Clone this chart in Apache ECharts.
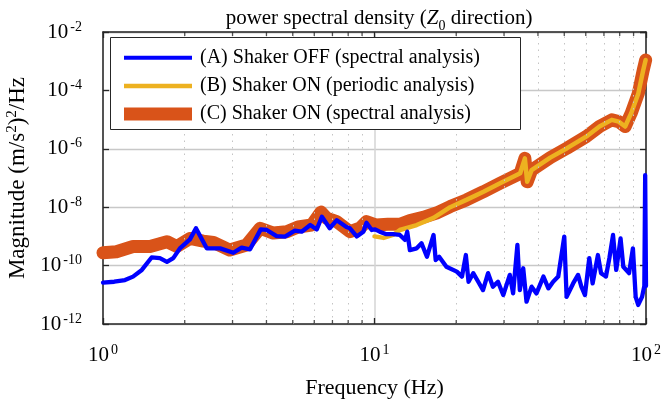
<!DOCTYPE html>
<html>
<head>
<meta charset="utf-8">
<script src="https://cdn.jsdelivr.net/npm/echarts@6/dist/echarts.min.js"></script>
<style>html,body{margin:0;padding:0;background:#fff;}#c{width:662px;height:406px;}</style>
</head>
<body>
<div id="c"></div>
<script>
// ---- data (frequency in Hz, PSD in (m/s^2)^2/Hz) ----
const freqA = [1.00,1.10,1.205,1.29,1.39,1.51,1.62,1.72,1.815,1.92,2.09,2.20,2.41,2.70,3.02,3.24,3.48,3.81,4.01,4.36,4.68,5.09,5.39,5.80,6.13,6.40,6.84,7.26,7.88,8.12,8.60,9.10,9.34,9.77,10.05,10.45,11.0,11.7,12.4,12.96,13.2,13.5,14.3,14.9,15.6,16.5,16.8,17.3,18.4,20.1,21.0,21.7,22.2,23.1,24.1,25.1,26.2,27.3,28.5,29.8,31.5,32.4,33.6,34.3,35.3,36.3,37.9,39.5,41.9,43.7,45.5,47.5,50.0,51.0,53.9,56.2,57.8,59.6,61.8,63.6,66.5,68.3,71.2,73.3,75.6,77.7,80.6,82.5,86.6,89.5,91.6,93.6,96.7,98.6,99.3,100];
const psdA = [2.6e-11,2.8e-11,3.2e-11,4.2e-11,7.1e-11,1.9e-10,1.8e-10,1.35e-10,1.8e-10,3.9e-10,7.9e-10,1.9e-9,3.9e-10,3.9e-10,2.75e-10,4.1e-10,3.6e-10,1.74e-9,1.66e-9,1.02e-9,9.8e-10,1.58e-9,1.45e-9,2.45e-9,1.74e-9,4.7e-9,1.9e-9,3.6e-9,2.1e-9,1.9e-9,1.0e-9,1.45e-9,2.95e-9,1.66e-9,1.74e-9,1.45e-9,1.2e-9,1.2e-9,1.12e-9,7.6e-10,1.45e-9,3.4e-10,3.9e-10,5.8e-10,2.0e-10,1.12e-9,1.55e-10,2.0e-10,9.1e-11,6.2e-11,4.2e-11,2.3e-10,2.8e-11,5.5e-11,2.8e-11,1.45e-11,5.5e-11,1.9e-11,2.8e-11,9.8e-12,4.8e-11,1.12e-11,5.1e-10,1.45e-11,8.1e-11,5.8e-12,1.9e-11,1.12e-11,4.2e-11,1.66e-11,2.8e-11,4.2e-11,9.8e-10,8.5e-12,2.45e-11,4.8e-11,1.9e-11,9.8e-12,1.8e-10,2.45e-11,2.3e-10,5.5e-11,4.2e-11,1.8e-10,1.12e-9,7.1e-11,8.5e-10,9.1e-11,5.5e-11,3.9e-10,8.5e-12,4.5e-12,8.5e-12,2.0e-11,1.26e-7,2.0e-11];

const freqB = [10.0,10.8,11.7,12.4,14.3,16.5,19.0,21.8,25.2,29.0,33.4,34.4,35.8,36.5,37.9,44.4,51.2,60.2,67.4,74.8,79.3,83.8,88.2,93.7,97.7,99.7];
const psdB = [1.0e-9,8.9e-10,1.12e-9,1.66e-9,2.45e-9,4.3e-9,1.0e-8,1.78e-8,3.4e-8,6.6e-8,1.26e-7,1.45e-7,4.7e-7,7.4e-8,1.86e-7,5.0e-7,1.05e-6,2.6e-6,5.8e-6,9.8e-6,8.5e-6,5.8e-6,1.66e-5,7.9e-5,5.0e-4,1.1e-3];

const freqC = [1.00,1.12,1.29,1.49,1.72,1.87,2.09,2.34,2.55,2.93,3.38,3.79,4.24,4.75,5.23,5.87,6.35,6.67,7.26,8.12,8.83,9.34,10.16,11.2,12.4,13.5,15.1,16.9,19.0,21.8,25.2,29.0,33.4,34.4,35.8,36.5,37.9,44.4,51.2,60.2,67.4,74.8,79.3,83.8,88.2,93.7,97.7,99.7];
const psdC = [2.75e-10,3.0e-10,4.5e-10,4.5e-10,6.6e-10,4.5e-10,8.5e-10,6.9e-10,6.2e-10,3.4e-10,5.1e-10,1.9e-9,1.3e-9,1.45e-9,2.1e-9,2.45e-9,6.8e-9,4.2e-9,3.2e-9,1.45e-9,1.9e-9,3.2e-9,2.45e-9,2.6e-9,2.6e-9,3.5e-9,4.5e-9,6.3e-9,1.05e-8,1.78e-8,3.4e-8,6.6e-8,1.26e-7,1.45e-7,4.7e-7,7.4e-8,1.86e-7,5.0e-7,1.05e-6,2.6e-6,5.8e-6,9.8e-6,8.5e-6,5.8e-6,1.66e-5,7.9e-5,5.0e-4,1.1e-3];

const seriesNames = ['(A) Shaker OFF (spectral analysis)','(B) Shaker ON (periodic analysis)','(C) Shaker ON (spectral analysis)'];
const minorTickFreqs = [2,3,4,5,6,7,8,9,20,30,40,50,60,70,80,90];
const yMin = 1e-12, yMax = 1e-2;

const FONT = 'Liberation Serif';
const AXC = '#262626';
const COLORS = ['#0000ff', '#EDB120', '#D95319'];
const toPairs = (xs, ys) => xs.map((x, i) => [x, ys[i]]);

function supLabel(v) {
  const e = Math.round(Math.log10(v));
  return '{b|10}{s|' + e + '}';
}
const labelRich = {
  b: { fontFamily: FONT, fontSize: 21, color: '#000', lineHeight: 24 },
  s: { fontFamily: FONT, fontSize: 14, color: '#000', lineHeight: 14, verticalAlign: 'top', padding: [0,0,0,2] }
};

const chart = echarts.init(document.getElementById('c'), null, { renderer: 'canvas' });

const xCommon = { type: 'log', logBase: 10, min: 1, max: 100, gridIndex: 0 };
const yCommon = { type: 'log', logBase: 10, min: yMin, max: yMax, interval: 2, gridIndex: 0 };

function legendFor(i, h, centerY) {
  return {
    orient: 'vertical', left: 124, top: centerY - 10, z: 60, padding: 0,
    itemWidth: 68, itemHeight: h,
    data: [{ name: seriesNames[i], icon: 'rect', itemStyle: { color: COLORS[i], borderWidth: 0 } }],
    textStyle: { fontFamily: FONT, fontSize: 20, color: '#000', lineHeight: 20, padding: [4,0,0,3] },
    selectedMode: false
  };
}

const option = {
  animation: false,
  backgroundColor: '#fff',
  title: {
    text: '{n|power spectral density (}{i|Z}{sub|0}{n| direction)}',
    left: 374, textAlign: 'center',
    top: 3,
    textStyle: {
      fontWeight: 'normal',
      rich: {
        n: { fontFamily: FONT, fontSize: 21, fontWeight: 'normal', color: '#000' },
        i: { fontFamily: FONT, fontSize: 21, fontWeight: 'normal', fontStyle: 'italic', color: '#000' },
        sub: { fontFamily: FONT, fontSize: 14, fontWeight: 'normal', color: '#000', verticalAlign: 'bottom', lineHeight: 14, padding: [0,0,-4,0] }
      }
    }
  },
  grid: { left: 103, right: 16, top: 32, bottom: 82, containLabel: false, outerBoundsMode: 'none' },
  graphic: [{
    type: 'rect', z: 50, silent: true,
    shape: { x: 110.5, y: 37.5, width: 410, height: 92 },
    style: { fill: '#fff', stroke: AXC, lineWidth: 1 }
  }],
  legend: [ legendFor(0, 4, 55.7), legendFor(1, 4.5, 84), legendFor(2, 13, 112) ],
  xAxis: [
    Object.assign({}, xCommon, {
      position: 'bottom',
      name: 'Frequency (Hz)', nameLocation: 'middle', nameGap: 53,
      nameTextStyle: { fontFamily: FONT, fontSize: 22, color: '#000' },
      axisLine: { show: true, lineStyle: { color: AXC, width: 1.5 } },
      axisTick: { show: true, inside: true, length: 6, lineStyle: { color: AXC, width: 1.3 } },
      axisLabel: { margin: 19, formatter: supLabel, rich: labelRich },
      splitLine: { show: true, lineStyle: { color: '#d4d4d4', width: 1.5 } },
      minorTick: { show: false }, minorSplitLine: { show: false }
    }),
    Object.assign({}, xCommon, {
      position: 'top',
      axisLine: { show: true, lineStyle: { color: AXC, width: 1.5 } },
      axisTick: { show: true, inside: true, length: 6, lineStyle: { color: AXC, width: 1.3 } },
      axisLabel: { show: false }, splitLine: { show: false }
    })
  ],
  yAxis: [
    Object.assign({}, yCommon, {
      position: 'left',
      name: '{n|Magnitude (m/s}{s|2}{n|)}{s|2}{n|/Hz}', nameLocation: 'middle', nameGap: 67, nameRotate: 90,
      nameTextStyle: { rich: {
        n: { fontFamily: FONT, fontSize: 23, color: '#000', lineHeight: 26 },
        s: { fontFamily: FONT, fontSize: 15, color: '#000', lineHeight: 15, verticalAlign: 'top' }
      } },
      axisLine: { show: true, lineStyle: { color: AXC, width: 1.5 } },
      axisTick: { show: true, inside: true, length: 6, lineStyle: { color: AXC, width: 1.3 } },
      axisLabel: { margin: 21, formatter: supLabel, rich: labelRich },
      splitLine: { show: true, lineStyle: { color: '#c8c8c8', width: 1.3 } }
    }),
    Object.assign({}, yCommon, {
      position: 'right',
      axisLine: { show: true, lineStyle: { color: AXC, width: 1.5 } },
      axisTick: { show: true, inside: true, length: 6, lineStyle: { color: AXC, width: 1.3 } },
      axisLabel: { show: false }, splitLine: { show: false }
    })
  ],
  series: [
    {
      name: seriesNames[0], type: 'line', data: toPairs(freqA, psdA),
      showSymbol: false, symbol: 'none', z: 5,
      lineStyle: { color: COLORS[0], width: 4.3, cap: 'round', join: 'round' },
      itemStyle: { color: COLORS[0] }
    },
    {
      name: seriesNames[1], type: 'line', data: toPairs(freqB, psdB),
      showSymbol: false, symbol: 'none', z: 4,
      lineStyle: { color: COLORS[1], width: 4.5, cap: 'round', join: 'round' },
      itemStyle: { color: COLORS[1] }
    },
    {
      name: seriesNames[2], type: 'line', data: toPairs(freqC, psdC),
      showSymbol: false, symbol: 'none', z: 3,
      lineStyle: { color: COLORS[2], width: 13, cap: 'round', join: 'round' },
      itemStyle: { color: COLORS[2] },
      markLine: {
        silent: true, symbol: 'none', label: { show: false }, animation: false,
        lineStyle: { color: '#c4c4c4', type: [1.5, 5], width: 1 },
        data: minorTickFreqs.map(f => ({ xAxis: f }))
      }
    },
    {
      name: 'minorTicksBottom', type: 'scatter', z: 6, silent: true,
      data: minorTickFreqs.map(f => [f, yMin]),
      symbol: 'rect', symbolSize: [1.3, 4], symbolOffset: [0, -2],
      itemStyle: { color: AXC }, clip: false
    },
    {
      name: 'minorTicksTop', type: 'scatter', z: 6, silent: true,
      data: minorTickFreqs.map(f => [f, yMax]),
      symbol: 'rect', symbolSize: [1.3, 4], symbolOffset: [0, 2],
      itemStyle: { color: AXC }, clip: false
    }
  ]
};
chart.setOption(option);
</script>
</body>
</html>
